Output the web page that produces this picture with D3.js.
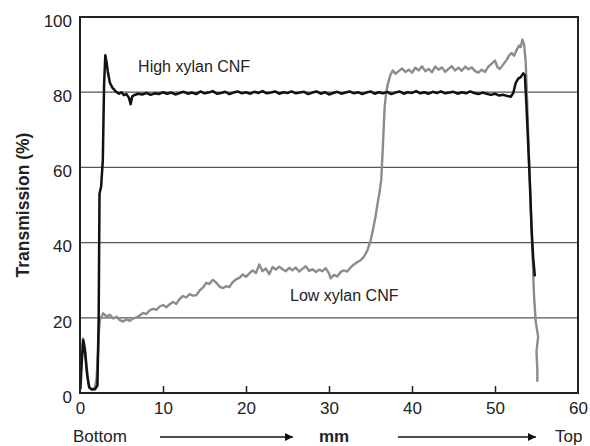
<!DOCTYPE html>
<html>
<head>
<meta charset="utf-8">
<script src="https://cdn.jsdelivr.net/npm/d3@7"></script>
<style>
  body { margin: 0; background: #fff; }
  svg { font-family: "Liberation Sans", Arial, sans-serif; }
</style>
</head>
<body>
<div id="chart"></div>
<script>
// tick values for both axes
var xTicks = [0, 10, 20, 30, 40, 50, 60];
var yTicks = [0, 20, 40, 60, 80, 100];
var gridLines = [20, 40, 60, 80];

// High xylan CNF (black) - [mm, transmission %]
var highXylan = [
  [0.05, 1], [0.2, 8], [0.4, 14], [0.6, 11], [0.85, 5], [1.1, 1.5], [1.4, 1], [1.8, 1], [2.1, 2],
  [2.25, 20], [2.35, 53], [2.55, 55], [2.75, 62], [2.9, 82], [3.05, 89.8], [3.2, 88], [3.35, 85.5],
  [3.6, 82.5], [3.9, 81.2], [4.3, 80.2], [4.7, 79.6], [5.0, 80.0], [5.3, 79.2], [5.6, 79.5], [5.9, 78.5],
  [6.1, 76.8], [6.3, 78.9], [6.5, 79.2], [7, 79.6], [7.5, 79.4], [8, 79.8], [8.5, 79.3], [9, 79.7],
  [9.5, 79.5], [10, 80.0], [10.5, 79.6], [11, 79.9], [11.5, 79.4], [12, 79.8], [12.5, 80.1], [13, 79.6],
  [13.5, 79.9], [14, 79.5], [14.5, 80.2], [15, 79.7], [15.5, 79.9], [16, 80.3], [16.5, 79.6], [17, 79.8],
  [17.5, 80.1], [18, 79.5], [18.5, 79.9], [19, 80.2], [19.5, 79.7], [20, 80.0], [20.5, 79.6], [21, 80.1],
  [21.5, 79.8], [22, 80.3], [22.5, 79.7], [23, 79.9], [23.5, 80.2], [24, 79.6], [24.5, 80.0], [25, 79.8],
  [25.5, 80.2], [26, 79.7], [26.5, 79.9], [27, 80.1], [27.5, 79.5], [28, 79.9], [28.5, 80.2], [29, 79.6],
  [29.5, 80.0], [30, 79.4], [30.5, 79.8], [31, 80.1], [31.5, 79.6], [32, 79.9], [32.5, 80.2], [33, 79.7],
  [33.5, 80.0], [34, 79.5], [34.5, 79.9], [35, 80.2], [35.5, 79.6], [36, 80.0], [36.5, 79.7], [37, 80.1],
  [37.5, 79.5], [38, 79.9], [38.5, 80.2], [39, 79.6], [39.5, 80.0], [40, 79.8], [40.5, 80.3], [41, 79.7],
  [41.5, 80.0], [42, 79.6], [42.5, 80.1], [43, 79.8], [43.5, 80.2], [44, 79.7], [44.5, 79.9], [45, 80.1],
  [45.5, 79.6], [46, 80.0], [46.5, 79.7], [47, 80.2], [47.5, 79.8], [48, 79.5], [48.5, 79.9], [49, 79.6],
  [49.5, 79.3], [50, 79.6], [50.5, 79.1], [51, 79.3], [51.5, 79.0], [51.9, 78.8], [52.2, 79.8],
  [52.5, 82.5], [52.8, 83.6], [53.1, 84.0], [53.4, 85.0], [53.6, 84.5], [53.8, 76], [54.0, 66],
  [54.2, 56], [54.4, 44], [54.6, 36], [54.8, 31]
];

// Low xylan CNF (grey) - [mm, transmission %]
var lowXylan = [
  [0, 3], [0.15, 9], [0.35, 14.5], [0.6, 12], [0.8, 7], [1.0, 3], [1.2, 1.2], [1.5, 0.8], [1.8, 1.5],
  [2.0, 4], [2.2, 12], [2.3, 17], [2.4, 19.5], [2.8, 21.2], [3.2, 20.4], [3.6, 20.8], [4.0, 19.8],
  [4.4, 20.3], [4.8, 19.4], [5.2, 19.0], [5.6, 19.6], [6.0, 19.2], [6.4, 19.8], [6.8, 20.1], [7.2, 20.6],
  [7.6, 21.3], [8.0, 21.0], [8.4, 22.0], [8.8, 22.4], [9.2, 22.1], [9.6, 23.0], [10.0, 23.4], [10.4, 22.8],
  [10.8, 23.6], [11.2, 24.2], [11.6, 23.7], [12.0, 25.0], [12.4, 25.8], [12.8, 25.4], [13.2, 26.3],
  [13.6, 25.9], [14.0, 26.0], [14.4, 27.2], [14.8, 28.0], [15.2, 29.3], [15.6, 29.0], [16.0, 30.1],
  [16.4, 29.4], [16.8, 28.3], [17.2, 27.9], [17.6, 28.4], [18.0, 28.2], [18.4, 29.5], [18.8, 30.2],
  [19.2, 30.6], [19.6, 31.5], [20.0, 30.9], [20.4, 31.8], [20.8, 32.6], [21.2, 31.9], [21.6, 34.2],
  [22.0, 32.4], [22.4, 33.1], [22.8, 31.6], [23.2, 33.5], [23.6, 32.8], [24.0, 33.6], [24.4, 32.9],
  [24.8, 32.4], [25.2, 33.3], [25.6, 32.6], [26.0, 33.4], [26.4, 32.3], [26.8, 33.0], [27.2, 33.7],
  [27.6, 32.5], [28.0, 32.9], [28.4, 32.2], [28.8, 32.8], [29.2, 32.4], [29.6, 33.2], [30.0, 31.8],
  [30.2, 30.5], [30.6, 31.4], [31.0, 31.0], [31.4, 32.2], [31.8, 32.6], [32.2, 32.3], [32.6, 33.4],
  [33.0, 34.2], [33.4, 34.8], [33.8, 35.3], [34.2, 36.2], [34.6, 37.8], [35.0, 40.4], [35.3, 43.5],
  [35.6, 46.8], [35.9, 51.0], [36.1, 53.5], [36.3, 56.8], [36.5, 66], [36.7, 76], [36.9, 80], [37.1, 82.3],
  [37.4, 84.6], [37.7, 85.8], [38.0, 84.9], [38.4, 85.6], [38.8, 86.3], [39.2, 85.4], [39.6, 86.0],
  [40.0, 85.2], [40.4, 86.5], [40.8, 85.8], [41.2, 86.9], [41.6, 85.6], [42.0, 86.2], [42.4, 85.3],
  [42.8, 86.8], [43.2, 86.0], [43.6, 86.6], [44.0, 85.4], [44.4, 86.2], [44.8, 86.9], [45.2, 85.8],
  [45.6, 86.5], [46.0, 85.7], [46.4, 86.8], [46.8, 86.1], [47.2, 86.6], [47.6, 85.6], [48.0, 85.2],
  [48.4, 86.0], [48.8, 85.4], [49.2, 86.8], [49.6, 87.6], [50.0, 88.4], [50.3, 86.6], [50.6, 86.2],
  [51.0, 87.4], [51.4, 88.6], [51.7, 89.8], [52.0, 90.4], [52.3, 89.7], [52.6, 91.2], [52.9, 92.4],
  [53.1, 92.0], [53.3, 94.0], [53.5, 92.8], [53.7, 88], [53.9, 76], [54.1, 62], [54.3, 50], [54.5, 38],
  [54.7, 26], [54.9, 19], [55.2, 15], [55.0, 11], [55.1, 6], [55.1, 3]
];

var width = 590, height = 446;
var margin = {top: 17, right: 12, bottom: 53, left: 80};
var innerW = width - margin.left - margin.right,
    innerH = height - margin.top - margin.bottom;

var svg = d3.select("#chart").append("svg")
    .attr("width", width)
    .attr("height", height);

var g = svg.append("g")
    .attr("transform", "translate(" + margin.left + "," + margin.top + ")");

var x = d3.scaleLinear().domain([0, 60]).range([0, innerW]);
var y = d3.scaleLinear().domain([0, 100]).range([innerH, 0]);

// horizontal grid
g.selectAll("line.grid").data(gridLines).enter()
  .append("line")
    .attr("class", "grid")
    .attr("x1", 0).attr("x2", innerW)
    .attr("y1", function(d) { return y(d); })
    .attr("y2", function(d) { return y(d); })
    .attr("stroke", "#555")
    .attr("stroke-width", 1.2);

var line = d3.line()
  .x(function(d) { return x(d[0]); })
  .y(function(d) { return y(d[1]); });

g.append("path")
  .datum(lowXylan)
  .attr("d", line)
  .attr("fill", "none")
  .attr("stroke", "#8c8c8c")
  .attr("stroke-width", 2.4)
  .attr("stroke-linejoin", "round");

g.append("path")
  .datum(highXylan)
  .attr("d", line)
  .attr("fill", "none")
  .attr("stroke", "#111")
  .attr("stroke-width", 2.5)
  .attr("stroke-linejoin", "round");

// frame
g.append("rect")
  .attr("width", innerW)
  .attr("height", innerH)
  .attr("fill", "none")
  .attr("stroke", "#222")
  .attr("stroke-width", 2);

// x axis, ticks pointing inside
var xAxis = g.append("g")
  .attr("transform", "translate(0," + innerH + ")")
  .call(d3.axisBottom(x).tickValues(xTicks).tickSizeInner(-7).tickSizeOuter(0).tickPadding(9));
xAxis.select(".domain").remove();
xAxis.selectAll(".tick line")
  .attr("stroke", "#222")
  .attr("stroke-width", 1.5)
  .style("display", function(d) { return (d === 0 || d === 60) ? "none" : null; });
xAxis.selectAll("text")
  .attr("font-size", 17)
  .attr("fill", "#222");

var yAxis = g.append("g")
  .call(d3.axisLeft(y).tickValues(yTicks).tickSize(0).tickPadding(8));
yAxis.select(".domain").remove();
yAxis.selectAll("text")
  .attr("font-size", 17)
  .attr("fill", "#222")
  .attr("dy", "0.55em");

// y title
svg.append("text")
  .attr("transform", "translate(29," + (margin.top + innerH / 2) + ") rotate(-90)")
  .attr("text-anchor", "middle")
  .attr("font-size", 17.5)
  .attr("font-weight", "bold")
  .attr("fill", "#222")
  .text("Transmission (%)");

// series labels
g.append("text")
  .attr("x", x(7.0)).attr("y", y(85.4))
  .attr("font-size", 16)
  .attr("fill", "#222")
  .text("High xylan CNF");

g.append("text")
  .attr("x", x(25.3)).attr("y", y(24.4))
  .attr("font-size", 16)
  .attr("fill", "#222")
  .text("Low xylan CNF");

// bottom direction line
var bottomY = 442;
svg.append("defs").append("marker")
    .attr("id", "arrow")
    .attr("viewBox", "0 0 10 10")
    .attr("refX", 10).attr("refY", 5)
    .attr("markerWidth", 10).attr("markerHeight", 8)
    .attr("markerUnits", "userSpaceOnUse")
    .attr("orient", "auto")
  .append("path")
    .attr("d", "M0,0L10,5L0,10Z")
    .attr("fill", "#111");

[[160, 293], [398, 536]].forEach(function(a) {
  svg.append("line")
    .attr("x1", a[0]).attr("x2", a[1])
    .attr("y1", bottomY - 5).attr("y2", bottomY - 5)
    .attr("stroke", "#111")
    .attr("stroke-width", 1.3)
    .attr("marker-end", "url(#arrow)");
});

svg.append("text").attr("x", 73).attr("y", bottomY)
  .attr("font-size", 17).attr("fill", "#222").text("Bottom");
svg.append("text").attr("x", 334).attr("y", bottomY)
  .attr("text-anchor", "middle")
  .attr("font-size", 17).attr("font-weight", "bold").attr("fill", "#222").text("mm");
svg.append("text").attr("x", 555).attr("y", bottomY)
  .attr("font-size", 17).attr("fill", "#222").text("Top");
</script>
</body>
</html>
